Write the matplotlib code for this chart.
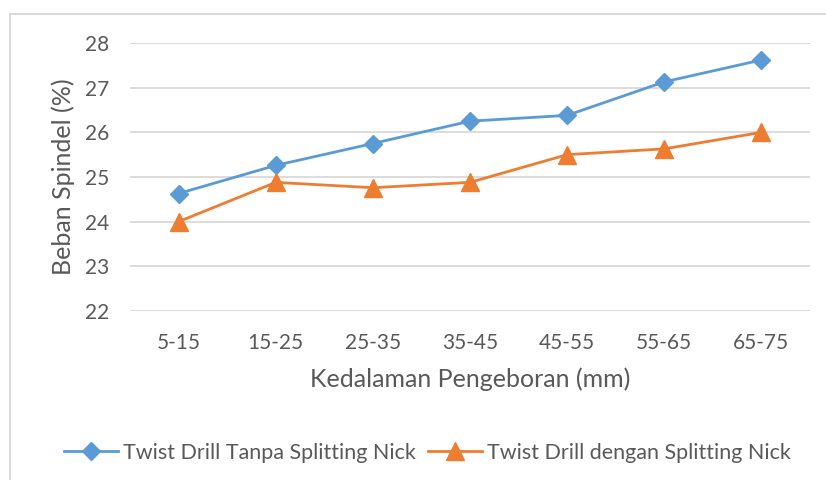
import matplotlib.pyplot as plt
from matplotlib.patches import Rectangle

kategori = ["5-15", "15-25", "25-35", "35-45", "45-55", "55-65", "65-75"]
tanpa_nick = [24.63, 25.26, 25.75, 26.25, 26.38, 27.13, 27.62]
dengan_nick = [24.0, 24.88, 24.76, 24.88, 25.5, 25.63, 26.0]

plt.rcParams['font.family'] = ['Lato', 'DejaVu Sans']
abu = '#595959'

fig = plt.figure(figsize=(8.26, 4.8), dpi=100)
ax = fig.add_axes([130 / 826, 1 - 311 / 480, 680 / 826, 268 / 480])

x = list(range(len(kategori)))
ax.plot(x, tanpa_nick, color='#5B9BD5', lw=2, marker='D', ms=9,
        label='Twist Drill Tanpa Splitting Nick')
ax.plot(x, dengan_nick, color='#ED7D31', lw=2, marker='^', ms=12.5,
        label='Twist Drill dengan Splitting Nick')

ax.set_xlim(-0.5, 6.5)
ax.set_ylim(22, 28)
ax.set_yticks(range(22, 29))
ax.set_xticks(x)
ax.set_xticklabels(kategori)
ax.grid(axis='y', color='#D9D9D9', lw=1.3)
ax.set_axisbelow(True)
for s in ax.spines.values():
    s.set_visible(False)
ax.tick_params(length=0, labelsize=15, colors=abu)
ax.tick_params(axis='y', pad=15)
ax.tick_params(axis='x', pad=16)

ax.set_xlabel('Kedalaman Pengeboran (mm)', fontsize=18, color=abu, labelpad=10)
ax.set_ylabel('Beban Spindel (%)', fontsize=18, color=abu, labelpad=7)

fig.legend(loc='center', bbox_to_anchor=(427.5 / 826, 1 - 453 / 480), ncol=2,
           frameon=False, fontsize=15.5, labelcolor=abu, handlelength=2.5,
           columnspacing=0.55, handletextpad=0.25)

fig.patches.append(Rectangle((10 / 826, -0.1), 1.2, 1 - 14 / 480 + 0.1,
                             transform=fig.transFigure, fill=False,
                             ec='#D9D9D9', lw=1.5))

fig.savefig('out.png', dpi=100)
